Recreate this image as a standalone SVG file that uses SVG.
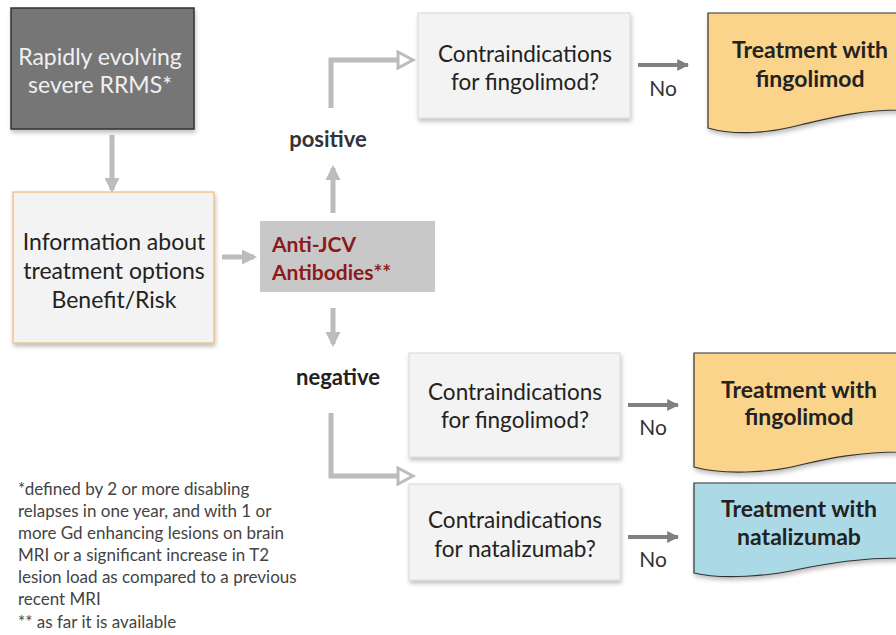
<svg xmlns="http://www.w3.org/2000/svg" width="896" height="635" viewBox="0 0 896 635">
<style>
.t{font-family:Lato,"Open Sans","Liberation Sans",sans-serif;text-anchor:middle}
.q{font-size:22.5px;fill:#222}
.b{font-weight:bold}
.no{font-family:Lato,"Open Sans","Liberation Sans",sans-serif;font-size:21px;fill:#333}
.fn{font-family:Lato,"Open Sans","Liberation Sans",sans-serif;font-size:17px;fill:#444}
.conn{stroke:#bcbcbc;stroke-width:5;fill:none}
.dark{stroke:#808080;stroke-width:4;fill:none}
</style>
<defs>
<filter id="sh" x="-10%" y="-10%" width="125%" height="130%">
<feDropShadow dx="1" dy="3" stdDeviation="2" flood-color="#000" flood-opacity="0.25"/>
</filter>
<marker id="ah" viewBox="0 0 10 10" refX="8" refY="5" markerWidth="3" markerHeight="3" orient="auto" markerUnits="strokeWidth">
<path d="M0,0 L10,5 L0,10 Z" fill="#bcbcbc"/>
</marker>
<marker id="ahd" viewBox="0 0 10 10" refX="9" refY="5" markerWidth="3" markerHeight="3" orient="auto" markerUnits="strokeWidth">
<path d="M0,0 L10,5 L0,10 Z" fill="#808080"/>
</marker>
</defs>
<rect width="896" height="635" fill="#fff"/>

<g id="connectors">
<line class="conn" x1="112" y1="135" x2="112" y2="190" marker-end="url(#ah)"/>
<line class="conn" x1="222" y1="257" x2="254" y2="257" marker-end="url(#ah)"/>
<line class="conn" x1="333" y1="213" x2="333" y2="168" marker-end="url(#ah)"/>
<line class="conn" x1="333" y1="308" x2="333" y2="344" marker-end="url(#ah)"/>
<path class="conn" d="M331,108 V60 H400"/>
<path d="M398,52 L413,60 L398,68 Z" fill="#fff" stroke="#bcbcbc" stroke-width="3"/>
<path class="conn" d="M331,413 V476 H400"/>
<path d="M398,468 L413,476 L398,484 Z" fill="#fff" stroke="#bcbcbc" stroke-width="3"/>
<line class="dark" x1="638" y1="65" x2="688" y2="65" marker-end="url(#ahd)"/>
<line class="dark" x1="628" y1="405" x2="678" y2="405" marker-end="url(#ahd)"/>
<line class="dark" x1="628" y1="537" x2="678" y2="537" marker-end="url(#ahd)"/>
<text class="no" x="663" y="96" text-anchor="middle">No</text>
<text class="no" x="653" y="435" text-anchor="middle">No</text>
<text class="no" x="653" y="567" text-anchor="middle">No</text>
<text class="t b" x="328" y="147" font-size="22" fill="#333">positive</text>
<text class="t b" x="338" y="385" font-size="22" fill="#222">negative</text>
</g>

<g id="rrms">
<rect x="11" y="8" width="183" height="121" fill="#767676" stroke="#333" stroke-width="1.5" filter="url(#sh)"/>
<text class="t" x="100" y="65" font-size="23" fill="#f0f0f0">Rapidly evolving</text>
<text class="t" x="100" y="93" font-size="23" fill="#f0f0f0">severe RRMS*</text>
</g>

<g id="info">
<rect x="13" y="192" width="201" height="151" fill="#f3f3f3" stroke="#f0b878" stroke-width="1.2" filter="url(#sh)"/>
<text class="t" x="114" y="250" font-size="23" fill="#222">Information about</text>
<text class="t" x="114" y="279" font-size="23" fill="#222">treatment options</text>
<text class="t" x="114" y="308" font-size="23" fill="#222">Benefit/Risk</text>
</g>

<g id="antijcv">
<rect x="260" y="221" width="175" height="71" fill="#c8c8c8"/>
<text x="272" y="252" font-family="Lato,'Open Sans','Liberation Sans',sans-serif" font-size="21" font-weight="bold" fill="#8b1a1a">Anti-JCV</text>
<text x="272" y="280" font-family="Lato,'Open Sans','Liberation Sans',sans-serif" font-size="21" font-weight="bold" fill="#8b1a1a">Antibodies**</text>
</g>

<g id="ci1">
<rect x="418" y="13" width="212" height="105" fill="#f3f3f3" stroke="#d8d8d8" stroke-width="1" filter="url(#sh)"/>
<text class="t q" x="525" y="62">Contraindications</text>
<text class="t q" x="525" y="90">for fingolimod?</text>
</g>

<g id="tx1">
<path d="M708,13 H900 V110 C860,110 830,118 800,125 C770,133 735,136 708,128 Z" fill="#fad48a" stroke="#333" stroke-width="1.2" filter="url(#sh)"/>
<text class="t b" x="810" y="58" font-size="23" fill="#222">Treatment with</text>
<text class="t b" x="810" y="87" font-size="23" fill="#222">fingolimod</text>
</g>

<g id="ci2">
<rect x="409" y="353" width="211" height="104" fill="#f3f3f3" stroke="#d8d8d8" stroke-width="1" filter="url(#sh)"/>
<text class="t q" x="515" y="400">Contraindications</text>
<text class="t q" x="515" y="428">for fingolimod?</text>
</g>

<g id="tx2">
<path d="M694,353 H900 V452 C860,452 830,458 800,465 C770,473 722,475 694,467 Z" fill="#fad48a" stroke="#333" stroke-width="1.2" filter="url(#sh)"/>
<text class="t b" x="799" y="398" font-size="23" fill="#222">Treatment with</text>
<text class="t b" x="799" y="425" font-size="23" fill="#222">fingolimod</text>
</g>

<g id="ci3">
<rect x="409" y="484" width="211" height="96" fill="#f3f3f3" stroke="#d8d8d8" stroke-width="1" filter="url(#sh)"/>
<text class="t q" x="515" y="528">Contraindications</text>
<text class="t q" x="515" y="557">for natalizumab?</text>
</g>

<g id="tx3">
<path d="M694,483 H900 V558 C860,558 830,563 800,569 C770,576 722,580 694,573 Z" fill="#abd9e6" stroke="#333" stroke-width="1.2" filter="url(#sh)"/>
<text class="t b" x="799" y="517" font-size="23" fill="#222">Treatment with</text>
<text class="t b" x="799" y="545" font-size="23" fill="#222">natalizumab</text>
</g>

<g id="footnote">
<text class="fn" x="18" y="495">*defined by 2 or more disabling</text>
<text class="fn" x="18" y="517">relapses in one year, and with 1 or</text>
<text class="fn" x="18" y="539">more Gd enhancing lesions on brain</text>
<text class="fn" x="18" y="561">MRI or a significant increase in T2</text>
<text class="fn" x="18" y="583">lesion load as compared to a previous</text>
<text class="fn" x="18" y="605">recent MRI</text>
<text class="fn" x="18" y="628">** as far it is available</text>
</g>
</svg>
